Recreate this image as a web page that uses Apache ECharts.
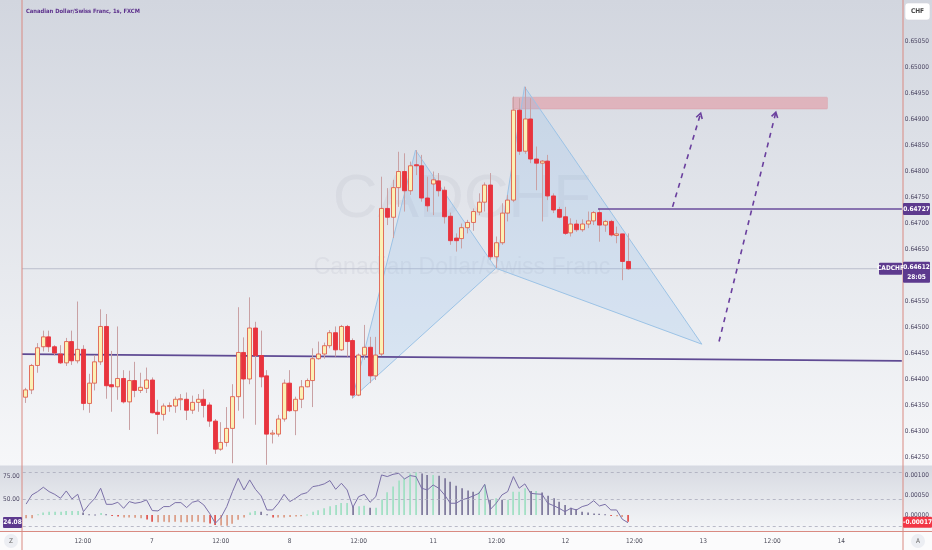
<!DOCTYPE html>
<html><head><meta charset="utf-8">
<script src="https://cdn.jsdelivr.net/npm/echarts@6/dist/echarts.min.js"></script>
<style>html,body{margin:0;padding:0;background:#fff;}#c{width:932px;height:550px;}</style>
</head><body><div id="c"></div>
<script>
// ---------------- DATA ----------------
const candleOpen = [0.64365,0.64379,0.64426,0.64462,0.64481,0.64462,0.64448,0.64431,0.64472,0.64435,
0.64457,0.64353,0.64392,0.64433,0.64501,0.64389,0.64385,0.64401,0.64356,0.64397,
0.64378,0.64382,0.64398,0.64336,0.64332,0.64347,0.64348,0.64361,0.64361,0.64340,
0.64355,0.64361,0.64350,0.64319,0.64265,0.64278,0.64305,0.64366,0.64451,0.64400,
0.64498,0.64445,0.64406,0.64294,0.64294,0.64323,0.64392,0.64339,0.64361,0.64385,
0.64397,0.64439,0.64448,0.64464,0.64489,0.64456,0.64501,0.64474,0.64369,0.64446,
0.64461,0.64406,0.64448,0.64728,0.64711,0.64768,0.64799,0.64762,0.64812,0.64810,
0.64748,0.64775,0.64781,0.64763,0.64713,0.64671,0.64670,0.64691,0.64701,0.64721,
0.64740,0.64773,0.64635,0.64662,0.64719,0.64744,0.64917,0.64838,0.64900,0.64823,
0.64815,0.64819,0.64752,0.64726,0.64712,0.64681,0.64698,0.64687,0.64698,0.64704,
0.64720,0.64696,0.64703,0.64676,0.64679,0.64626];
const candleClose = [0.64379,0.64426,0.64460,0.64481,0.64462,0.64450,0.64431,0.64472,0.64435,0.64457,
0.64353,0.64392,0.64433,0.64501,0.64387,0.64385,0.64401,0.64356,0.64397,0.64378,
0.64384,0.64398,0.64335,0.64332,0.64348,0.64349,0.64361,0.64362,0.64340,0.64355,
0.64361,0.64349,0.64319,0.64265,0.64278,0.64305,0.64366,0.64451,0.64400,0.64498,
0.64445,0.64404,0.64294,0.64296,0.64323,0.64392,0.64339,0.64361,0.64385,0.64397,
0.64439,0.64448,0.64464,0.64489,0.64456,0.64501,0.64472,0.64369,0.64446,0.64461,
0.64406,0.64446,0.64728,0.64711,0.64768,0.64799,0.64762,0.64810,0.64810,0.64748,
0.64733,0.64783,0.64762,0.64712,0.64666,0.64666,0.64691,0.64701,0.64722,0.64740,
0.64773,0.64635,0.64662,0.64719,0.64744,0.64917,0.64838,0.64900,0.64823,0.64815,
0.64819,0.64752,0.64725,0.64711,0.64680,0.64698,0.64687,0.64698,0.64704,0.64720,
0.64696,0.64703,0.64677,0.64679,0.64626,0.64612];
const candleLow = [0.64354,0.64371,0.64412,0.64453,0.64452,0.64445,0.64429,0.64425,0.64427,0.64430,
0.64340,0.64335,0.64378,0.64427,0.64362,0.64337,0.64360,0.64353,0.64302,0.64365,
0.64373,0.64373,0.64334,0.64294,0.64320,0.64337,0.64335,0.64340,0.64321,0.64333,
0.64337,0.64326,0.64308,0.64256,0.64262,0.64270,0.64238,0.64339,0.64324,0.64390,
0.64312,0.64384,0.64235,0.64276,0.64289,0.64318,0.64337,0.64292,0.64344,0.64384,
0.64346,0.64437,0.64439,0.64459,0.64443,0.64454,0.64443,0.64363,0.64367,0.64437,
0.64392,0.64398,0.64444,0.64696,0.64671,0.64731,0.64722,0.64754,0.64792,0.64741,
0.64722,0.64715,0.64751,0.64699,0.64658,0.64645,0.64651,0.64680,0.64685,0.64715,
0.64722,0.64629,0.64613,0.64658,0.64703,0.64740,0.64831,0.64833,0.64815,0.64763,
0.64703,0.64744,0.64719,0.64709,0.64677,0.64674,0.64683,0.64683,0.64690,0.64696,
0.64664,0.64683,0.64674,0.64661,0.64590,0.64610];
const candleHigh = [0.64383,0.64429,0.64469,0.64493,0.64493,0.64465,0.64465,0.64479,0.64493,0.64549,
0.64465,0.64410,0.64446,0.64534,0.64525,0.64454,0.64501,0.64417,0.64416,0.64433,
0.64412,0.64422,0.64403,0.64360,0.64353,0.64355,0.64366,0.64371,0.64374,0.64368,
0.64371,0.64380,0.64355,0.64323,0.64317,0.64346,0.64390,0.64538,0.64480,0.64557,
0.64510,0.64493,0.64417,0.64302,0.64331,0.64399,0.64417,0.64366,0.64398,0.64401,
0.64459,0.64472,0.64470,0.64494,0.64501,0.64504,0.64504,0.64478,0.64449,0.64504,
0.64481,0.64481,0.64789,0.64767,0.64783,0.64837,0.64834,0.64818,0.64840,0.64831,
0.64789,0.64799,0.64796,0.64770,0.64720,0.64680,0.64699,0.64706,0.64728,0.64757,
0.64778,0.64796,0.64674,0.64738,0.64754,0.64943,0.64940,0.64962,0.64940,0.64847,
0.64821,0.64831,0.64757,0.64731,0.64731,0.64709,0.64706,0.64707,0.64722,0.64723,
0.64728,0.64706,0.64706,0.64693,0.64679,0.64680];
const rsiValues = [44.7,54.8,58.5,63.3,58.5,55.4,51.1,59.2,50.4,55.5,
36.3,44.4,51.1,62.2,44.4,44.4,46.7,40.0,47.4,45.6,
46.7,49.3,37.5,37.1,41.9,41.9,46.3,46.3,40.8,46.7,
48.4,43.7,34.5,23.5,30.0,41.9,58.5,73.2,60.3,71.4,
61.0,53.7,38.2,38.2,45.6,55.5,47.4,51.1,55.5,57.3,
64.0,65.1,67.0,70.7,61.0,67.7,60.3,41.2,52.9,55.5,
46.7,52.9,76.9,75.1,77.6,78.7,72.5,76.2,75.1,62.2,
60.3,65.8,62.2,54.8,45.6,45.6,49.3,51.1,53.7,56.6,
66.6,38.9,45.6,54.8,58.5,75.1,62.2,67.0,56.6,55.9,
55.5,45.6,43.0,40.0,36.3,40.0,38.2,41.9,43.7,48.4,
42.6,44.4,38.2,38.2,27.9,24.08];
const macdHist = [-0.00008,-0.00008,0.00002,0.00006,0.00008,0.00008,0.00008,0.0001,0.0001,0.0001,
0.00006,0.00002,0.00001,0.00005,0.00002,-0.00001,-0.00004,-0.00006,-0.00006,-0.00007,
-0.00008,-0.00011,-0.00017,-0.00018,-0.00017,-0.00018,-0.00017,-0.00018,-0.00018,-0.00017,
-0.00017,-0.00018,-0.00021,-0.00025,-0.00026,-0.00027,-0.00022,-0.00012,-0.00006,0.00006,
0.0001,0.00008,0.00002,-0.00006,-0.00006,-0.00006,-0.00005,-0.00004,-0.00003,0.00001,
0.00008,0.00012,0.00017,0.00022,0.00025,0.0003,0.0003,0.00021,0.00022,0.00023,
0.00018,0.00018,0.00039,0.00057,0.00071,0.00086,0.00092,0.00104,0.00107,0.00104,
0.001,0.001,0.00098,0.00092,0.00083,0.00073,0.00067,0.00061,0.00058,0.00058,
0.00075,0.00038,0.00042,0.00038,0.00038,0.00058,0.00058,0.00067,0.0006,0.0006,
0.00056,0.00048,0.00042,0.00033,0.00025,0.00018,0.00015,0.00008,0.00006,0.00004,
0.00003,0.00002,-0.00001,-0.00003,-0.00005,-0.00017];
const timeTickIndex = [10,22,34,46,58,71,82,94,106,118,130,142];
const timeTickText = ['12:00','7','12:00','8','12:00','11','12:00','12','12:00','13','12:00','14'];
const priceTicks = [0.6425,0.643,0.6435,0.644,0.6445,0.645,0.6455,0.646,0.6465,0.647,0.6475,0.648,0.6485,0.649,0.6495,0.65,0.6505];
const rsiTicks = [50,75];
const macdTicks = [0,0.0005,0.001];
const rsiBands = [80,50,20];
// harmonic pattern points X, A, B, C, D  (bar index, price)
const patternIndex = [57,68,82,87,117.9];
const patternPrice = [0.64363,0.64840,0.64613,0.64962,0.64467];
const trendLine = [[-0.6,0.64448],[152.76,0.64435]];
const resistanceLine = [[99.8,0.64727],[152.76,0.64727]];
const lastPrice = 0.64612;
const targetZone = [[84.9,0.64942],[139.8,0.64919]];
const arrowPath1 = [[112.8,0.64731],[117.7,0.64911]];
const arrowPath2 = [[120.9,0.64472],[130.8,0.64913]];
const lastRsiText = '24.08';
const lastMacdText = '-0.00017';
const countdownText = '28:05';

// ---------------- CHART ----------------
const FONT = "'Liberation Sans Narrow','DejaVu Sans Condensed','Liberation Sans',sans-serif";
const XMIN = -0.592, XMAX = 152.76;
const chart = echarts.init(document.getElementById('c'));
const timeCategories = new Array(153).fill('');
timeTickIndex.forEach((k, j) => { timeCategories[k] = timeTickText[j]; });
const candleData = candleOpen.map((o, i) => [i, o, candleClose[i], candleLow[i], candleHigh[i]]);

function segSeries(name, seg, style, z) {
  return {
    type: 'custom', name, xAxisIndex: 0, yAxisIndex: 0, z, silent: true,
    data: [[seg[0][0], seg[0][1], seg[1][0], seg[1][1]]],
    renderItem: (p, api) => {
      const a = api.coord([api.value(0), api.value(1)]);
      const b = api.coord([api.value(2), api.value(3)]);
      return { type: 'line', shape: { x1: a[0], y1: a[1], x2: b[0], y2: b[1] }, style };
    }
  };
}
function arrowSeries(name, seg) {
  return {
    type: 'custom', name, xAxisIndex: 0, yAxisIndex: 0, z: 6, silent: true,
    data: [[seg[0][0], seg[0][1], seg[1][0], seg[1][1]]],
    renderItem: (p, api) => {
      const a = api.coord([api.value(0), api.value(1)]);
      const b = api.coord([api.value(2), api.value(3)]);
      const th = Math.atan2(b[1] - a[1], b[0] - a[0]);
      const L = 6, s = { stroke: '#6a3f9e', lineWidth: 1.6 };
      const h1 = [b[0] + L * Math.cos(th + Math.PI - 0.55), b[1] + L * Math.sin(th + Math.PI - 0.55)];
      const h2 = [b[0] + L * Math.cos(th + Math.PI + 0.55), b[1] + L * Math.sin(th + Math.PI + 0.55)];
      return { type: 'group', children: [
        { type: 'line', shape: { x1: a[0], y1: a[1], x2: b[0], y2: b[1] }, style: Object.assign({ lineDash: [5, 5] }, s) },
        { type: 'polyline', shape: { points: [h1, b, h2] }, style: Object.assign({ fill: null }, s) }
      ]};
    }
  };
}
const triangles = [[0, 1, 2], [2, 3, 4]];
const triangleData = triangles.map(t => t.reduce((acc, k) => acc.concat([patternIndex[k], patternPrice[k]]), []));

const option = {
  animation: false,
  grid: [
    { left: 22, right: 29, top: 0, height: 465 },
    { left: 22, right: 29, top: 465, height: 67 },
    { left: 22.53, right: 30.47, top: 532, height: 1 }
  ],
  xAxis: [
    { gridIndex: 0, type: 'value', min: XMIN, max: XMAX, show: false },
    { gridIndex: 1, type: 'value', min: XMIN, max: XMAX, show: false },
    { gridIndex: 2, type: 'category', data: timeCategories, position: 'bottom',
      axisLine: { show: false }, axisTick: { show: false }, splitLine: { show: false },
      axisLabel: { interval: 0, fontSize: 6.5, color: '#4a4a58', margin: 5, fontFamily: FONT } }
  ],
  yAxis: [
    { gridIndex: 0, type: 'value', position: 'right', min: 0.642346, max: 0.651288,
      splitLine: { show: false }, axisLine: { show: false }, axisTick: { show: false },
      axisLabel: { customValues: priceTicks, formatter: v => v.toFixed(5), fontSize: 6.5, color: '#4f4a66', margin: 3, fontFamily: FONT } },
    { gridIndex: 1, type: 'value', position: 'left', min: 13.8, max: 87.9,
      splitLine: { show: false }, axisLine: { show: false }, axisTick: { show: false },
      axisLabel: { customValues: rsiTicks, formatter: v => v.toFixed(2), fontSize: 6.5, color: '#4f4a66', margin: 3, fontFamily: FONT } },
    { gridIndex: 1, type: 'value', position: 'right', min: -0.000425, max: 0.00125,
      splitLine: { show: false }, axisLine: { show: false }, axisTick: { show: false },
      axisLabel: { customValues: macdTicks, formatter: v => v.toFixed(5), fontSize: 6.5, color: '#4f4a66', margin: 3, fontFamily: FONT } },
    { gridIndex: 2, type: 'value', show: false }
  ],
  series: [
    segSeries('lastPriceLine', [[XMIN, lastPrice], [XMAX, lastPrice]], { stroke: '#bcbfcd', lineWidth: 1 }, 1),
    segSeries('trendLine', trendLine, { stroke: '#5f4a93', lineWidth: 1.7 }, 3),
    {
      type: 'custom', name: 'targetZone', xAxisIndex: 0, yAxisIndex: 0, z: 2, silent: true,
      data: [[targetZone[0][0], targetZone[0][1], targetZone[1][0], targetZone[1][1]]],
      renderItem: (p, api) => {
        const a = api.coord([api.value(0), api.value(1)]);
        const b = api.coord([api.value(2), api.value(3)]);
        return { type: 'rect', shape: { x: a[0], y: a[1], width: b[0] - a[0], height: b[1] - a[1], r: 1 },
          style: { fill: 'rgba(232,112,124,0.38)', stroke: 'rgba(220,120,130,0.45)', lineWidth: 0.5 } };
      }
    },
    {
      type: 'custom', name: 'pattern', xAxisIndex: 0, yAxisIndex: 0, z: 2, silent: true,
      data: triangleData,
      renderItem: (p, api) => {
        const pts = [];
        for (let k = 0; k < 3; k++) pts.push(api.coord([api.value(2 * k), api.value(2 * k + 1)]));
        return { type: 'polygon', shape: { points: pts },
          style: { fill: 'rgba(120,178,240,0.19)', stroke: '#9cc3e6', lineWidth: 1 } };
      }
    },
    {
      type: 'custom', name: 'CADCHF', xAxisIndex: 0, yAxisIndex: 0, z: 4, silent: true,
      data: candleData,
      renderItem: (p, api) => {
        const i = api.value(0), o = api.value(1), c = api.value(2), l = api.value(3), h = api.value(4);
        const pO = api.coord([i, o]), pC = api.coord([i, c]), pL = api.coord([i, l]), pH = api.coord([i, h]);
        const x = Math.round(pO[0]) + 0.5;
        const bull = c >= o;
        const top = Math.min(pO[1], pC[1]);
        const hgt = Math.max(Math.abs(pO[1] - pC[1]), 1);
        return { type: 'group', children: [
          { type: 'line', shape: { x1: x, y1: pH[1], x2: x, y2: pL[1] }, style: { stroke: '#c9a1a4', lineWidth: 1 } },
          { type: 'rect', shape: { x: x - 2, y: top, width: 4, height: hgt },
            style: { fill: bull ? '#fbf1b4' : '#e8343e', stroke: bull ? '#e0604f' : '#e8343e', lineWidth: 0.9 } }
        ]};
      }
    },
    segSeries('resistanceLine', resistanceLine, { stroke: '#6a4c9c', lineWidth: 1.4 }, 5),
    arrowSeries('arrow1', arrowPath1),
    arrowSeries('arrow2', arrowPath2),
    {
      type: 'custom', name: 'MACD', xAxisIndex: 1, yAxisIndex: 2, z: 3, silent: true,
      data: macdHist.map((v, i) => [i, v]),
      renderItem: (p, api) => {
        const i = api.value(0), v = api.value(1);
        const prev = i > 0 ? macdHist[i - 1] : v;
        const a = api.coord([i, 0]), b = api.coord([i, v]);
        let col;
        if (v >= 0) col = v >= prev ? '#a3e0c5' : '#827d9f';
        else col = v < prev - 0.00002 ? '#e05a55' : '#dca08b';
        const x = Math.round(a[0]);
        return { type: 'rect', shape: { x: x - 0.8, y: Math.min(a[1], b[1]), width: 1.8, height: Math.max(Math.abs(b[1] - a[1]), 1) },
          style: { fill: col } };
      }
    },
    {
      type: 'line', name: 'RSI', xAxisIndex: 1, yAxisIndex: 1, z: 4, silent: true,
      data: rsiValues.map((v, i) => [i, v]), symbol: 'none',
      lineStyle: { color: '#7b70a8', width: 1 },
      markLine: { silent: true, symbol: 'none', label: { show: false },
        lineStyle: { color: '#a9abbb', type: [3, 3], width: 0.8 },
        data: rsiBands.map(v => ({ yAxis: v })) }
    }
  ]
};
chart.setOption(option);

// ---------- overlay graphics (positions from the chart's own axes) ----------
const grad = (a, b) => new echarts.graphic.LinearGradient(0, 0, 0, 1, [{ offset: 0, color: a }, { offset: 1, color: b }]);
const py = v => chart.convertToPixel({ yAxisIndex: 0 }, v);
const yRes = py(resistanceLine[0][1]);
const yLast = py(lastPrice);
const yRsi = Math.min(chart.convertToPixel({ yAxisIndex: 1 }, rsiValues[rsiValues.length - 1]), 522);
const yMacd = chart.convertToPixel({ yAxisIndex: 2 }, macdHist[macdHist.length - 1]);
const PURPLE = '#5d3a8e';
function box(x, y, w, h, fill, lines, color, extra) {
  const els = [{ type: 'rect', z: 100, shape: { x, y, width: w, height: h, r: (extra && extra.r) || 1 },
    style: { fill, stroke: (extra && extra.stroke) || null, lineWidth: 0.6 } }];
  lines.forEach((t, k) => els.push({ type: 'text', z: 101, x: x + w / 2, y: y + (k + 0.5) * (h / lines.length),
    style: { text: t, fill: color, fontSize: 6.5, fontFamily: FONT, fontWeight: 'bold', textAlign: 'center', textVerticalAlign: 'middle' } }));
  return els;
}
const L = (x1, y1, x2, y2, c, w) => ({ type: 'line', z: 60, silent: true, shape: { x1, y1, x2, y2 }, style: { stroke: c, lineWidth: w } });
const graphics = [
  { type: 'rect', z: -10, silent: true, shape: { x: 0, y: 0, width: 932, height: 465 }, style: { fill: grad('#d2d6df', '#f6f7f9') } },
  { type: 'rect', z: -10, silent: true, shape: { x: 0, y: 465, width: 932, height: 67 }, style: { fill: grad('#d6d9e1', '#f5f6f8') } },
  { type: 'rect', z: -10, silent: true, shape: { x: 0, y: 532, width: 932, height: 18 }, style: { fill: '#fbfbfc' } },
  { type: 'text', z: -9, silent: true, x: 462, y: 200, style: { text: 'CADCHF', fill: 'rgba(110,115,135,0.08)', fontSize: 62, fontFamily: 'Liberation Sans, sans-serif', textAlign: 'center', textVerticalAlign: 'middle' } },
  { type: 'text', z: -9, silent: true, x: 462, y: 268, style: { text: 'Canadian Dollar/Swiss Franc', fill: 'rgba(110,115,135,0.08)', fontSize: 23, fontFamily: 'Liberation Sans, sans-serif', textAlign: 'center', textVerticalAlign: 'middle' } },
  { type: 'text', z: 60, silent: true, x: 26, y: 11, style: { text: 'Canadian Dollar/Swiss Franc, 1s, FXCM', fill: '#5a2d8a', fontSize: 5.8, fontWeight: 'bold', fontFamily: FONT, textAlign: 'left', textVerticalAlign: 'middle' } },
  L(0, 465.5, 932, 465.5, '#e6e8ee', 1),
  L(22, 0, 22, 550, '#d98a82', 1),
  L(903, 0, 903, 550, '#d98a82', 1),
  L(0, 531.5, 932, 531.5, '#d98a82', 1),
  { type: 'circle', z: 60, silent: true, shape: { cx: 11, cy: 541, r: 7 }, style: { fill: '#eceef3' } },
  { type: 'text', z: 61, silent: true, x: 11, y: 541, style: { text: 'Z', fill: '#666', fontSize: 6.5, fontFamily: FONT, textAlign: 'center', textVerticalAlign: 'middle' } },
  { type: 'circle', z: 60, silent: true, shape: { cx: 918, cy: 541, r: 7 }, style: { fill: '#eceef3' } },
  { type: 'text', z: 61, silent: true, x: 918, y: 541, style: { text: 'A', fill: '#666', fontSize: 6.5, fontFamily: FONT, textAlign: 'center', textVerticalAlign: 'middle' } }
]
  .concat(box(905, 3, 25, 17, '#ffffff', ['CHF'], '#444', { stroke: '#d3d5dc', r: 3 }))
  .concat(box(903, yRes - 6, 27, 12, PURPLE, [resistanceLine[0][1].toFixed(5)], '#fff'))
  .concat(box(879, yLast - 6, 23, 12, PURPLE, ['CADCHF'], '#fff'))
  .concat(box(903, yLast - 7, 27, 21, PURPLE, [lastPrice.toFixed(5), countdownText], '#fff'))
  .concat(box(3, yRsi - 5, 19, 11, PURPLE, [lastRsiText], '#fff'))
  .concat(box(903, yMacd - 5, 29, 11, '#f23645', [lastMacdText], '#fff'));
chart.setOption({ graphic: graphics });
</script>
</body></html>
